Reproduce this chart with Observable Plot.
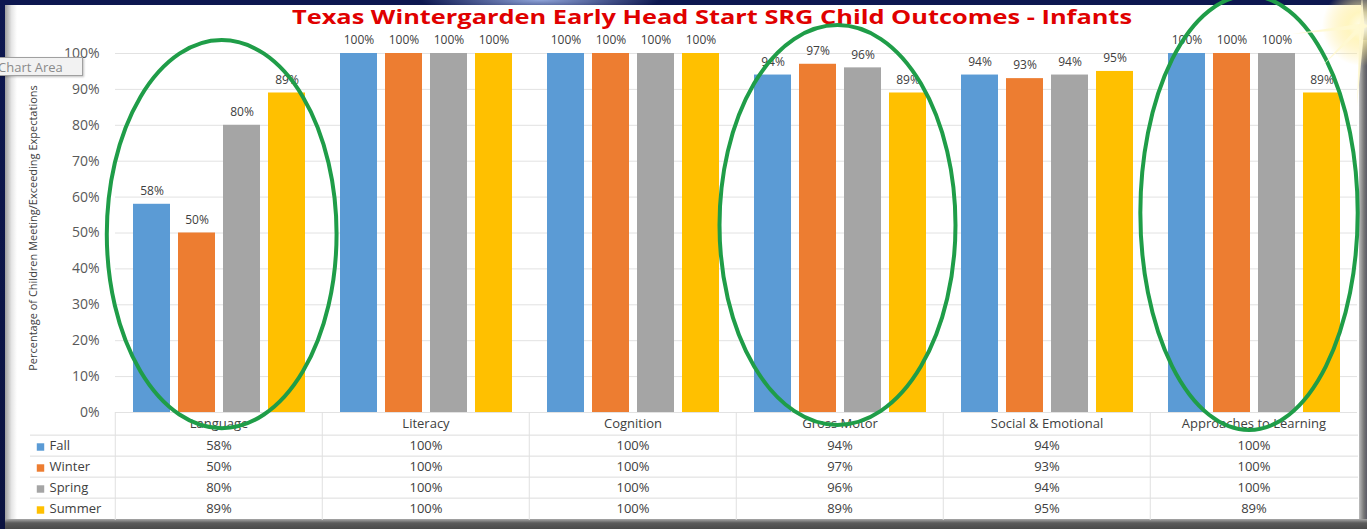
<!DOCTYPE html>
<html><head><meta charset="utf-8">
<script src="https://cdn.jsdelivr.net/npm/d3@7"></script>
<script src="https://cdn.jsdelivr.net/npm/@observablehq/plot@0.6"></script>
<style>
html,body{margin:0;padding:0;}
body{width:1367px;height:529px;overflow:hidden;background:#0b1343;position:relative;font-family:"Open Sans",sans-serif;}
#bg{position:absolute;left:0;top:0;width:1367px;height:529px;background:radial-gradient(ellipse 120px 14px at 540px 0px,#8fa3d8,rgba(11,19,67,0)),linear-gradient(#0d1750,#0a1240);}
#panel{position:absolute;left:5px;top:5px;width:1356px;height:516px;background:#fff;}
#leftbevel{position:absolute;left:5px;top:5px;width:12px;height:516px;background:linear-gradient(to right,#9d9d9d,#e6e6e6 55%,#fff);}
#bottombevel{position:absolute;left:5px;top:519px;width:1362px;height:10px;background:linear-gradient(#a8a8a8,#5a5a5a 40%,#4a4a4a);}
#rightbevel{position:absolute;left:1359px;top:40px;width:8px;height:489px;background:linear-gradient(to right,#bdbdbd,#777 60%,#5a5a66);}
#title{position:absolute;left:292px;top:3px;white-space:nowrap;font:bold 20px "Open Sans",sans-serif;color:#e00000;transform-origin:0 0;}
#ytitle{position:absolute;left:32px;top:228px;white-space:nowrap;font:11px "Open Sans",sans-serif;color:#404040;}
#chartarea{position:absolute;left:-9px;top:57px;width:92px;height:19px;background:#f2f2f2;border:1px solid #a0a0a0;box-shadow:1px 1px 2px rgba(0,0,0,0.25);font:13px "Open Sans",sans-serif;color:#8a8a8a;line-height:19px;padding-left:6px;box-sizing:border-box;}
svg.layer{position:absolute;left:0;}
</style>
</head><body>
<div id="bg"></div>
<div id="panel"></div>
<div id="leftbevel"></div>
<div id="rightbevel"></div>
<div id="bottombevel"></div>
<div id="title">Texas Wintergarden Early Head Start SRG Child Outcomes - Infants</div>
<div id="ytitle">Percentage of Children Meeting/Exceeding Expectations</div>
<script>
// ---- data ----
const categories = ["Language", "Literacy", "Cognition", "Gross Motor", "Social & Emotional", "Approaches to Learning"];
const seasons = ["Fall", "Winter", "Spring", "Summer"];
const fall   = [58, 100, 100, 94, 94, 100];
const winter = [50, 100, 100, 97, 93, 100];
const spring = [80, 100, 100, 96, 94, 100];
const summer = [89, 100, 100, 89, 95, 89];
const yTicks = [0, 10, 20, 30, 40, 50, 60, 70, 80, 90, 100];
const seasonColors = ["#5b9bd5", "#ed7d31", "#a5a5a5", "#ffc000"];
// annotation ellipses (green circles drawn on the slide)
const ellipseCats = ["Language", "Gross Motor", "Approaches to Learning"];
const ellipseTop = [103.6, 107.8, 116];
const ellipseBottom = [-4.5, -3.6, -5];

const series = [fall, winter, spring, summer];
const data = categories.flatMap((c, i) => seasons.map((s, j) => ({category: c, season: s, value: series[j][i]})));
const pct = d => d.value + "%";

const W = 1367, ML = 113, MR = 9;

const chart = Plot.plot({
  width: W, height: 432,
  marginTop: 53, marginBottom: 20, marginLeft: ML, marginRight: MR,
  style: {fontFamily: "Open Sans", fontSize: "14px", color: "#595959", background: "transparent"},
  fx: {domain: categories, padding: 0, axis: null},
  x: {domain: seasons, paddingInner: 0.18, paddingOuter: 0.39, axis: null},
  y: {domain: [0, 100], ticks: yTicks, tickFormat: d => d + "%", tickSize: 0, tickPadding: 16, label: null},
  color: {domain: seasons, range: seasonColors},
  marks: [
    Plot.ruleY(yTicks, {stroke: "#e2e2e2"}),
    Plot.barY(data, {fx: "category", x: "season", y: "value", fill: "season"}),
    Plot.text(data, {fx: "category", x: "season", y: "value", text: pct, dy: -13, fontSize: 12, fill: "#404040"})
  ]
});
chart.setAttribute("class", (chart.getAttribute("class") || "") + " layer");
chart.style.top = "0px";
document.body.appendChild(chart);

const TH = 108, TMT = 21;
const rowH = (TH - TMT) / seasons.length;
const colW = (W - ML - MR) / categories.length;
const table = Plot.plot({
  width: W, height: TH,
  marginTop: TMT, marginBottom: 0, marginLeft: ML, marginRight: MR,
  style: {fontFamily: "Open Sans", fontSize: "13px", color: "#404040", background: "transparent"},
  x: {type: "band", domain: categories, padding: 0, axis: null},
  y: {type: "band", domain: seasons, padding: 0, axis: null},
  color: {domain: seasons, range: seasonColors},
  marks: [
    Plot.ruleY(seasons, {y: d => d, dy: -rowH / 2, insetLeft: -83, stroke: "#dcdcdc"}),
    Plot.ruleX(categories, {x: d => d, dx: -colW / 2, insetTop: -TMT, stroke: "#e0e0e0"}),
    Plot.text(categories, {x: d => d, frameAnchor: "top", lineAnchor: "middle", dy: -10, text: d => d}),
    Plot.text(data, {x: "category", y: "season", text: pct}),
    Plot.dot(seasons, {y: d => d, frameAnchor: "left", dx: -73, dy: 1, symbol: "square", r: 4.2, fill: d => d}),
    Plot.text(seasons, {y: d => d, frameAnchor: "left", dx: -64, textAnchor: "start", text: d => d})
  ]
});
table.setAttribute("class", (table.getAttribute("class") || "") + " layer");
table.style.top = "412px";
document.body.appendChild(table);

// ---- overlay: ellipses and star, positioned with the chart's own scales ----
const fxS = chart.scale("fx");
const r0 = fxS.range[0], r1 = fxS.range[1];
const step = fxS.step || (r1 - r0) / categories.length;
let yApply;
try { const ys = Plot.scale({y: chart.scale("y")}); yApply = v => ys.apply(v); }
catch (e) { const s = chart.scale("y"); yApply = d3.scaleLinear(s.domain, s.range); }
const ellShift = [0.025, 0, -0.012];
const ellWidth = [1.11, 1.14, 1.05];

const ov = d3.create("svg").attr("class", "layer").attr("width", W).attr("height", 529)
  .style("top", "0px").style("pointer-events", "none");
const defs = ov.append("defs");
const rg = defs.append("radialGradient").attr("id", "glow");
rg.append("stop").attr("offset", "0%").attr("stop-color", "#fffef0").attr("stop-opacity", 1);
rg.append("stop").attr("offset", "35%").attr("stop-color", "#fff3b0").attr("stop-opacity", 0.8);
rg.append("stop").attr("offset", "100%").attr("stop-color", "#ffe680").attr("stop-opacity", 0);
ellipseCats.forEach((c, k) => {
  const i = categories.indexOf(c);
  const cx = r0 + (i + 0.5) * step + ellShift[k] * step;
  const yt = yApply(ellipseTop[k]), yb = yApply(ellipseBottom[k]);
  ov.append("ellipse")
    .attr("cx", cx).attr("cy", (yt + yb) / 2)
    .attr("rx", ellWidth[k] * step / 2).attr("ry", (yb - yt) / 2)
    .attr("fill", "none").attr("stroke", "#1f9d48").attr("stroke-width", 4);
});
// sparkle in the corner
const sx = 1362, sy = 26;
ov.append("circle").attr("cx", sx).attr("cy", sy).attr("r", 40).attr("fill", "url(#glow)");
[[ -70, 8], [-40, 40], [0, -30], [-5, 80], [10, 0]].forEach(([dx, dy]) => {
  const len = Math.hypot(dx, dy), nx = -dy / len * 2.5, ny = dx / len * 2.5;
  ov.append("path").attr("d", `M${sx + nx},${sy + ny}L${sx + dx},${sy + dy}L${sx - nx},${sy - ny}Z`)
    .attr("fill", "#fff8d0").attr("opacity", 0.9);
});
document.body.appendChild(ov.node());

const chartArea = document.createElement("div");
chartArea.id = "chartarea"; chartArea.textContent = "Chart Area";
document.body.appendChild(chartArea);

// fit title width to the slide's title span
const t = document.getElementById("title");
const tw = t.getBoundingClientRect().width;
t.style.transform = `scaleX(${840 / tw})`;
// rotated axis title, kept within ~305px centred at (32, 228)
const yt = document.getElementById("ytitle");
const yw = yt.getBoundingClientRect().width;
const ys = Math.min(1, 305 / yw);
yt.style.transform = `translate(-50%,-50%) rotate(-90deg) scaleX(${ys})`;
</script>
</body></html>
